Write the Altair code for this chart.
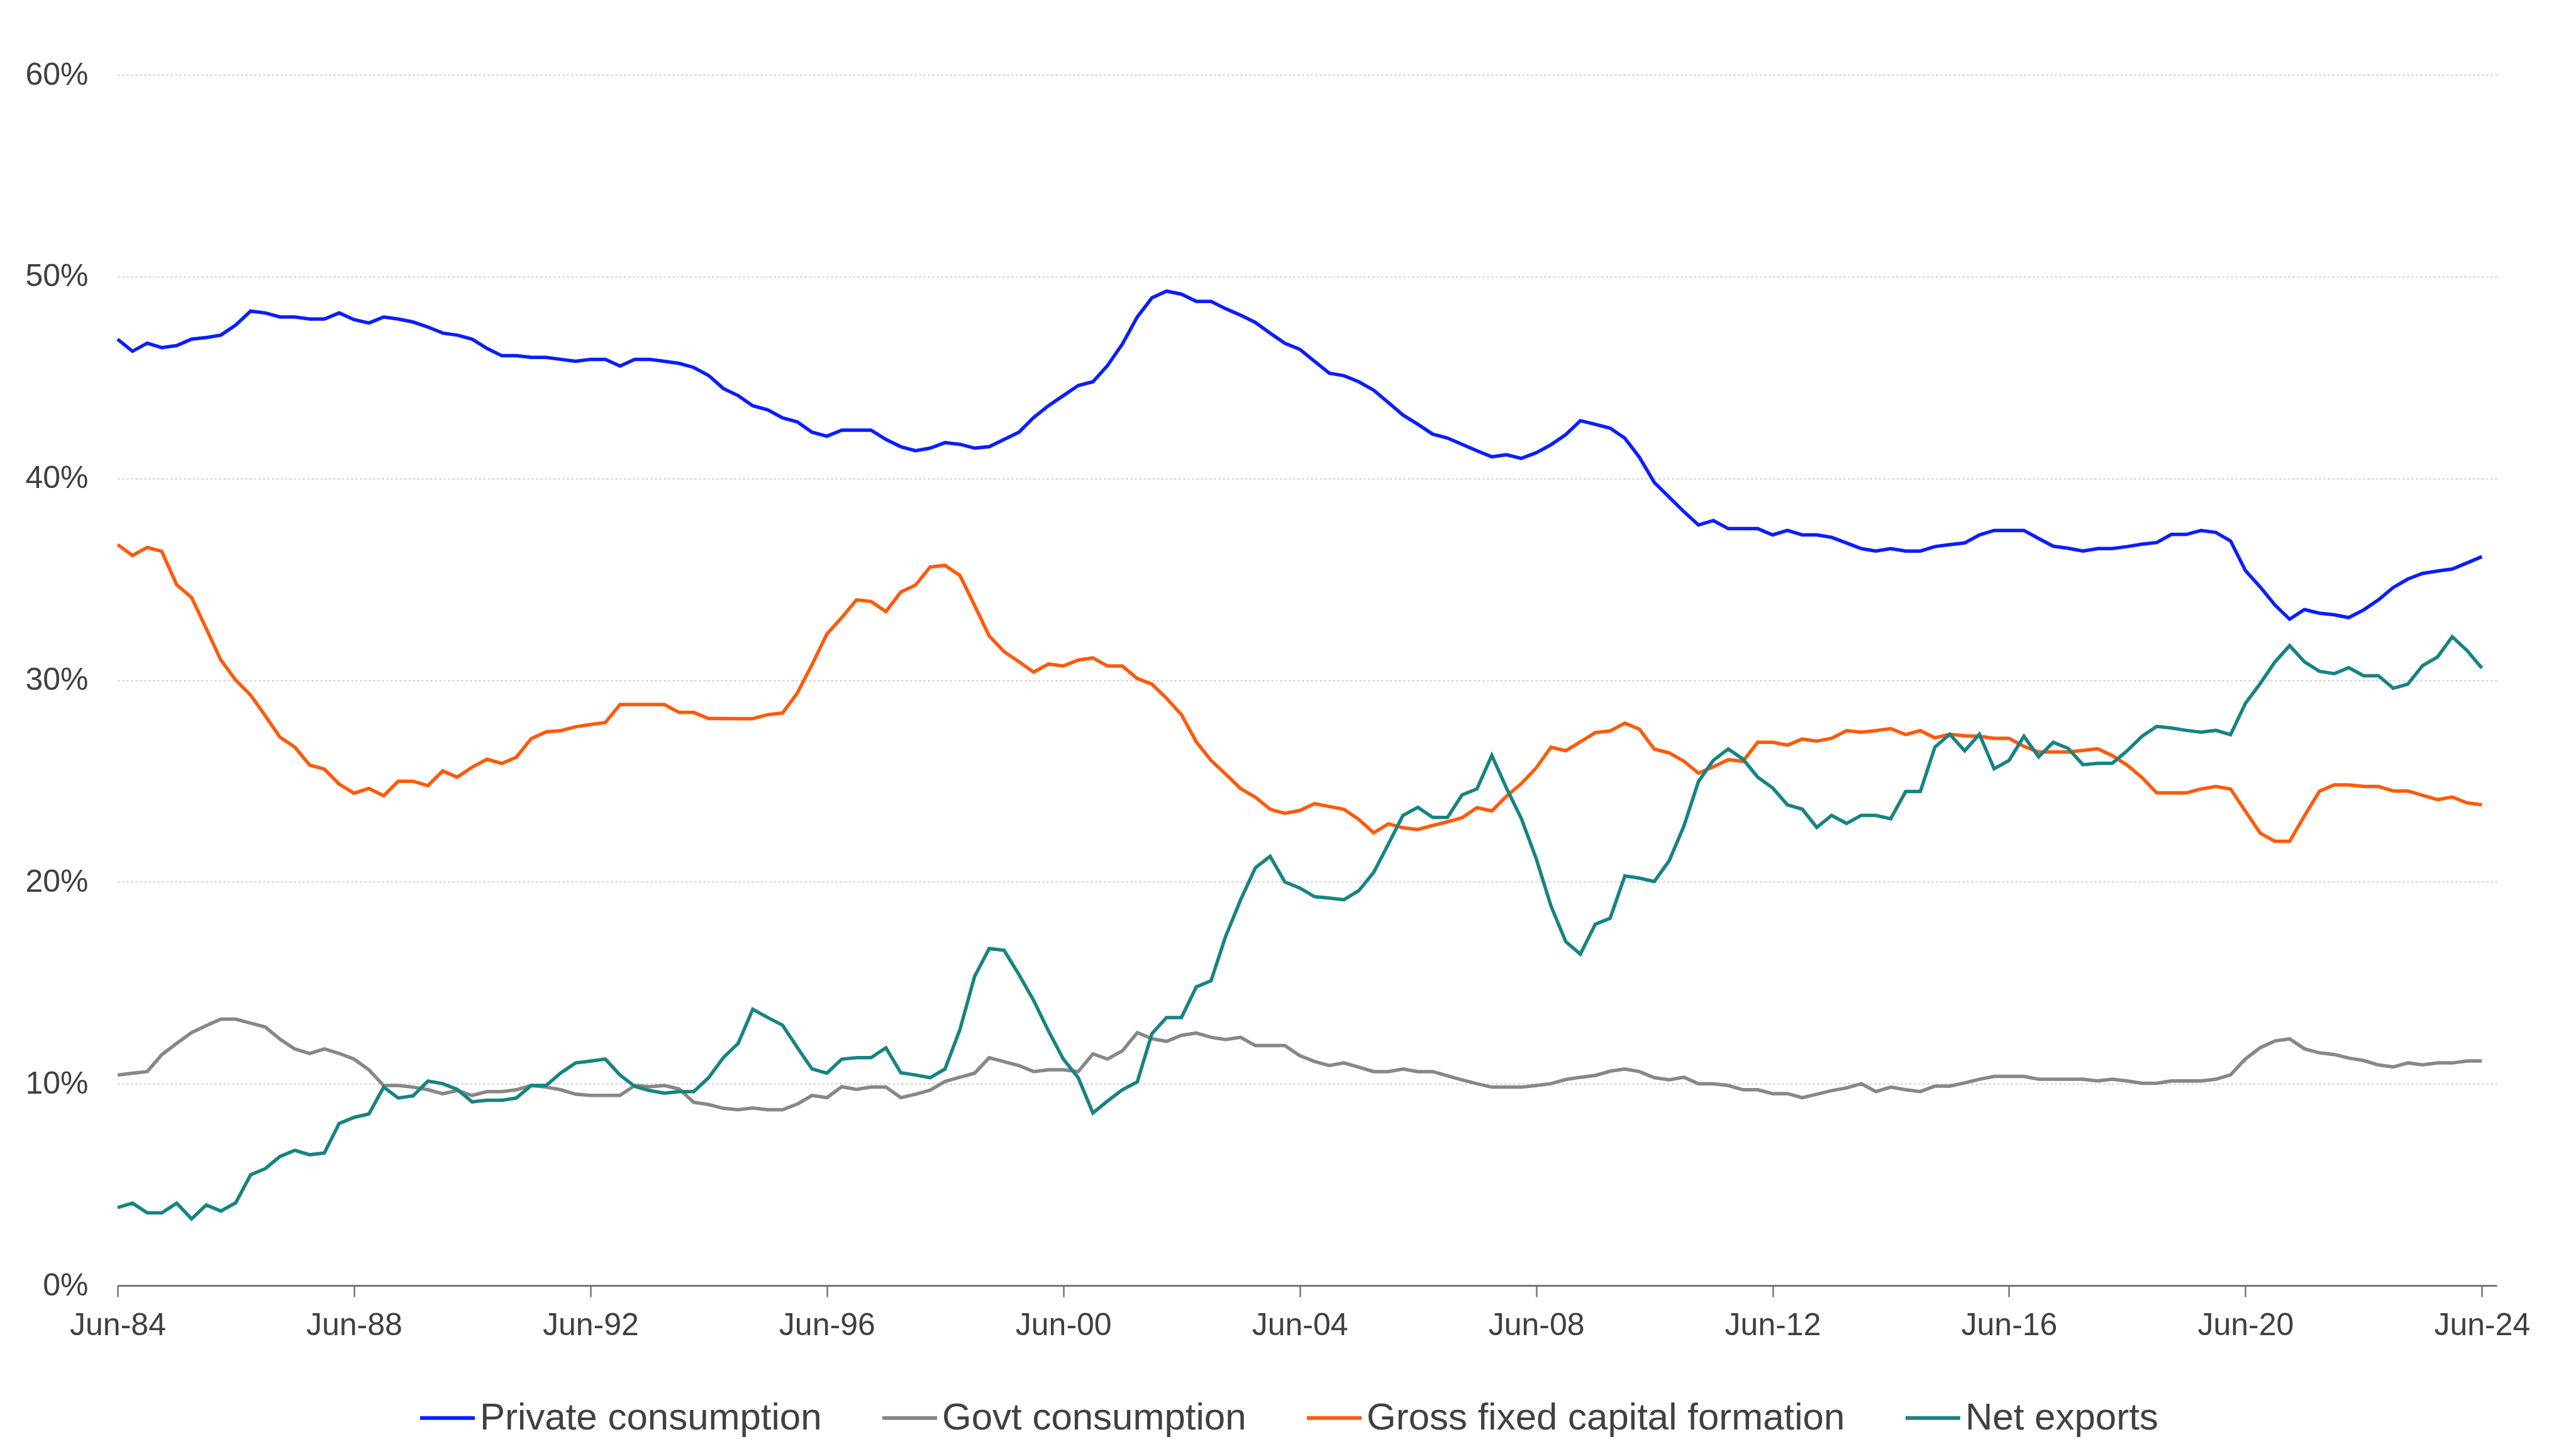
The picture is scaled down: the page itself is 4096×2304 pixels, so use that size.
import altair as alt
import pandas as pd

series_names = ["Private consumption", "Govt consumption", "Gross fixed capital formation", "Net exports"]
series_colors = ["#0A1EFF", "#878787", "#FF5A0A", "#168482"]

start_quarter = "1984-06-01"
end_domain = "2024-09-01"
tick_years = list(range(1984, 2025, 4))
y_ticks = [0, 10, 20, 30, 40, 50, 60]

private = [
    46.9, 46.3, 46.7, 46.48, 46.58, 46.9, 46.98, 47.1, 47.6, 48.29,
    48.2, 48.0, 48.0, 47.9, 47.9, 48.2, 47.87, 47.7, 48.0, 47.9,
    47.75, 47.5, 47.2, 47.1, 46.9, 46.44, 46.08, 46.08, 46.0, 46.0,
    45.9, 45.8, 45.9, 45.9, 45.57, 45.9, 45.9, 45.8, 45.7, 45.5,
    45.1, 44.45, 44.1, 43.6, 43.4, 43.0, 42.8, 42.29, 42.09, 42.39,
    42.39, 42.39, 41.93, 41.57, 41.37, 41.5, 41.77, 41.69, 41.5, 41.57,
    41.93, 42.29, 43.02, 43.6, 44.1, 44.6, 44.79, 45.59, 46.66, 48.0,
    48.95, 49.28, 49.13, 48.77, 48.77, 48.41, 48.09, 47.73, 47.2, 46.7,
    46.4, 45.8, 45.21, 45.09, 44.79, 44.37, 43.76, 43.14, 42.68, 42.19,
    42.0, 41.69, 41.37, 41.07, 41.17, 40.99, 41.27, 41.67, 42.17, 42.86,
    42.68, 42.49, 41.99, 41.05, 39.8, 39.07, 38.35, 37.69, 37.91, 37.51,
    37.51, 37.51, 37.2, 37.42, 37.2, 37.2, 37.08, 36.8, 36.52, 36.4,
    36.52, 36.4, 36.4, 36.62, 36.72, 36.8, 37.2, 37.42, 37.42, 37.42,
    37.02, 36.64, 36.54, 36.4, 36.52, 36.52, 36.62, 36.74, 36.82, 37.22,
    37.22, 37.42, 37.32, 36.9, 35.43, 34.61, 33.72, 33.02, 33.5, 33.32,
    33.24, 33.1, 33.48, 33.98, 34.59, 35.01, 35.29, 35.41, 35.51, 35.81,
    36.12,
]

govt = [
    10.43, 10.52, 10.6, 11.44, 12.0, 12.53, 12.88, 13.2, 13.2, 13.0,
    12.81, 12.21, 11.72, 11.5, 11.72, 11.5, 11.22, 10.69, 9.91, 9.91,
    9.83, 9.7, 9.5, 9.66, 9.42, 9.61, 9.61, 9.7, 9.91, 9.83,
    9.7, 9.48, 9.42, 9.42, 9.42, 9.91, 9.85, 9.91, 9.74, 9.08,
    8.97, 8.78, 8.71, 8.8, 8.71, 8.71, 8.99, 9.42, 9.31, 9.85,
    9.72, 9.83, 9.83, 9.31, 9.48, 9.68, 10.11, 10.32, 10.52, 11.29,
    11.09, 10.9, 10.6, 10.69, 10.69, 10.6, 11.48, 11.22, 11.63, 12.53,
    12.23, 12.1, 12.4, 12.51, 12.3, 12.19, 12.3, 11.89, 11.89, 11.89,
    11.39, 11.1, 10.9, 11.03, 10.82, 10.6, 10.6, 10.73, 10.6, 10.6,
    10.39, 10.19, 10.0, 9.83, 9.83, 9.83, 9.91, 10.0, 10.21, 10.32,
    10.41, 10.62, 10.73, 10.6, 10.3, 10.19, 10.32, 10.0, 10.0, 9.91,
    9.7, 9.7, 9.51, 9.51, 9.31, 9.48, 9.66, 9.79, 10.0, 9.61,
    9.83, 9.7, 9.61, 9.88, 9.88, 10.04, 10.22, 10.36, 10.36, 10.36,
    10.22, 10.22, 10.22, 10.22, 10.14, 10.22, 10.14, 10.02, 10.02, 10.14,
    10.14, 10.14, 10.22, 10.44, 11.23, 11.79, 12.12, 12.22, 11.73, 11.53,
    11.45, 11.27, 11.15, 10.93, 10.83, 11.03, 10.93, 11.03, 11.03, 11.13,
    11.13,
]

gfcf = [
    36.72, 36.18, 36.58, 36.38, 34.73, 34.1, 32.55, 31.0, 30.0, 29.26,
    28.23, 27.18, 26.68, 25.79, 25.59, 24.85, 24.4, 24.63, 24.27, 24.99,
    24.99, 24.77, 25.5, 25.19, 25.69, 26.08, 25.87, 26.18, 27.1, 27.44,
    27.5, 27.69, 27.8, 27.9, 28.79, 28.79, 28.79, 28.79, 28.4, 28.4,
    28.1, 28.1, 28.09, 28.09, 28.29, 28.37, 29.36, 30.76, 32.29, 33.1,
    33.98, 33.9, 33.4, 34.37, 34.71, 35.61, 35.69, 35.19, 33.7, 32.19,
    31.41, 30.91, 30.4, 30.8, 30.7, 31.0, 31.1, 30.7, 30.7, 30.08,
    29.8, 29.1, 28.29, 26.94, 26.02, 25.35, 24.63, 24.2, 23.6, 23.4,
    23.54, 23.88, 23.74, 23.6, 23.1, 22.43, 22.88, 22.68, 22.6, 22.8,
    22.98, 23.18, 23.68, 23.52, 24.25, 24.87, 25.65, 26.68, 26.5, 26.94,
    27.4, 27.48, 27.87, 27.57, 26.58, 26.4, 25.98, 25.39, 25.71, 26.06,
    25.98, 26.92, 26.92, 26.78, 27.08, 26.98, 27.12, 27.5, 27.42, 27.5,
    27.6, 27.3, 27.5, 27.14, 27.32, 27.24, 27.22, 27.12, 27.12, 26.72,
    26.44, 26.44, 26.44, 26.52, 26.6, 26.26, 25.79, 25.17, 24.41, 24.41,
    24.41, 24.61, 24.73, 24.61, 23.5, 22.41, 22.01, 22.01, 23.28, 24.49,
    24.81, 24.81, 24.73, 24.73, 24.51, 24.51, 24.29, 24.08, 24.21, 23.92,
    23.82,
]

net_exports = [
    3.86, 4.08, 3.6, 3.6, 4.08, 3.3, 3.99, 3.69, 4.1, 5.49,
    5.79, 6.39, 6.7, 6.48, 6.57, 8.03, 8.33, 8.5, 9.83, 9.29,
    9.4, 10.13, 10.0, 9.72, 9.1, 9.18, 9.18, 9.29, 9.91, 9.91,
    10.54, 11.03, 11.12, 11.22, 10.43, 9.87, 9.66, 9.53, 9.61, 9.61,
    10.3, 11.3, 12.0, 13.69, 13.28, 12.9, 11.8, 10.73, 10.52, 11.22,
    11.29, 11.29, 11.78, 10.54, 10.43, 10.3, 10.73, 12.68, 15.32, 16.7,
    16.61, 15.41, 14.12, 12.62, 11.22, 10.3, 8.55, 9.14, 9.7, 10.09,
    12.49, 13.28, 13.28, 14.8, 15.1, 17.3, 19.1, 20.7, 21.27, 20.0,
    19.7, 19.27, 19.2, 19.12, 19.57, 20.47, 21.88, 23.3, 23.7, 23.2,
    23.2, 24.31, 24.61, 26.27, 24.64, 23.15, 21.16, 18.8, 17.04, 16.42,
    17.9, 18.2, 20.3, 20.19, 20.02, 21.05, 22.77, 24.98, 26.03, 26.59,
    26.09, 25.19, 24.66, 23.82, 23.61, 22.7, 23.3, 22.9, 23.3, 23.3,
    23.13, 24.48, 24.48, 26.68, 27.32, 26.5, 27.32, 25.61, 26.02, 27.22,
    26.2, 26.92, 26.62, 25.81, 25.88, 25.88, 26.5, 27.22, 27.71, 27.63,
    27.51, 27.42, 27.51, 27.3, 28.85, 29.84, 30.91, 31.71, 30.91, 30.44,
    30.32, 30.62, 30.22, 30.22, 29.6, 29.8, 30.72, 31.15, 32.15, 31.47,
    30.6,
]

series_values = [private, govt, gfcf, net_exports]
dates = pd.date_range(start_quarter, periods=len(private), freq="3MS")
rows = []
for name, vals in zip(series_names, series_values):
    for d, v in zip(dates, vals):
        rows.append({"date": d.strftime("%Y-%m-%d"), "series": name, "value": v})
df = pd.DataFrame(rows)


def utc_ms(s):
    return int(pd.Timestamp(s, tz="UTC").timestamp() * 1000)


tick_ms = [utc_ms(f"{y}-06-01") for y in tick_years]
x_domain = [utc_ms(start_quarter), utc_ms(end_domain)]

FONT = "Liberation Sans"
TEXT = "#404040"
AXIS = "#767676"

chart = alt.Chart(df).mark_line(strokeWidth=5.5).encode(
    x=alt.X(
        "date:T",
        scale=alt.Scale(type="utc", domain=x_domain),
        axis=alt.Axis(
            values=tick_ms,
            labelExpr="utcFormat(datum.value, '%b-%y')",
            grid=False,
            domainColor=AXIS,
            domainWidth=3,
            tickColor=AXIS,
            tickWidth=2.5,
            tickSize=18,
            labelFont=FONT,
            labelFontSize=50,
            labelColor=TEXT,
            labelPadding=20,
            labelFlush=False,
            labelOverlap=False,
            title=None,
        ),
    ),
    y=alt.Y(
        "value:Q",
        scale=alt.Scale(domain=[0, 60], nice=False),
        axis=alt.Axis(
            values=y_ticks,
            labelExpr="datum.value + '%'",
            domain=False,
            ticks=False,
            grid=True,
            gridColor="#C8C8C8",
            gridDash=[3, 4],
            gridWidth=2,
            labelFont=FONT,
            labelFontSize=50,
            labelColor=TEXT,
            labelPadding=47,
            title=None,
        ),
    ),
    color=alt.Color(
        "series:N",
        scale=alt.Scale(domain=series_names, range=series_colors),
        legend=alt.Legend(
            orient="none",
            legendX=478,
            legendY=2089,
            direction="horizontal",
            columns=4,
            title=None,
            symbolType="stroke",
            symbolSize=7569,
            symbolStrokeWidth=6,
            labelFont=FONT,
            labelFontSize=60,
            labelColor=TEXT,
            labelLimit=2000,
            labelOffset=5,
            columnPadding=84,
            padding=0,
        ),
    ),
).properties(
    width=3783,
    height=1925,
    padding={"left": 179, "top": 111, "right": 118, "bottom": 252},
    autosize=alt.AutoSizeParams(type="none"),
).configure_view(stroke=None)

chart.save("out.html", embed_options={"renderer": "svg", "actions": False})
